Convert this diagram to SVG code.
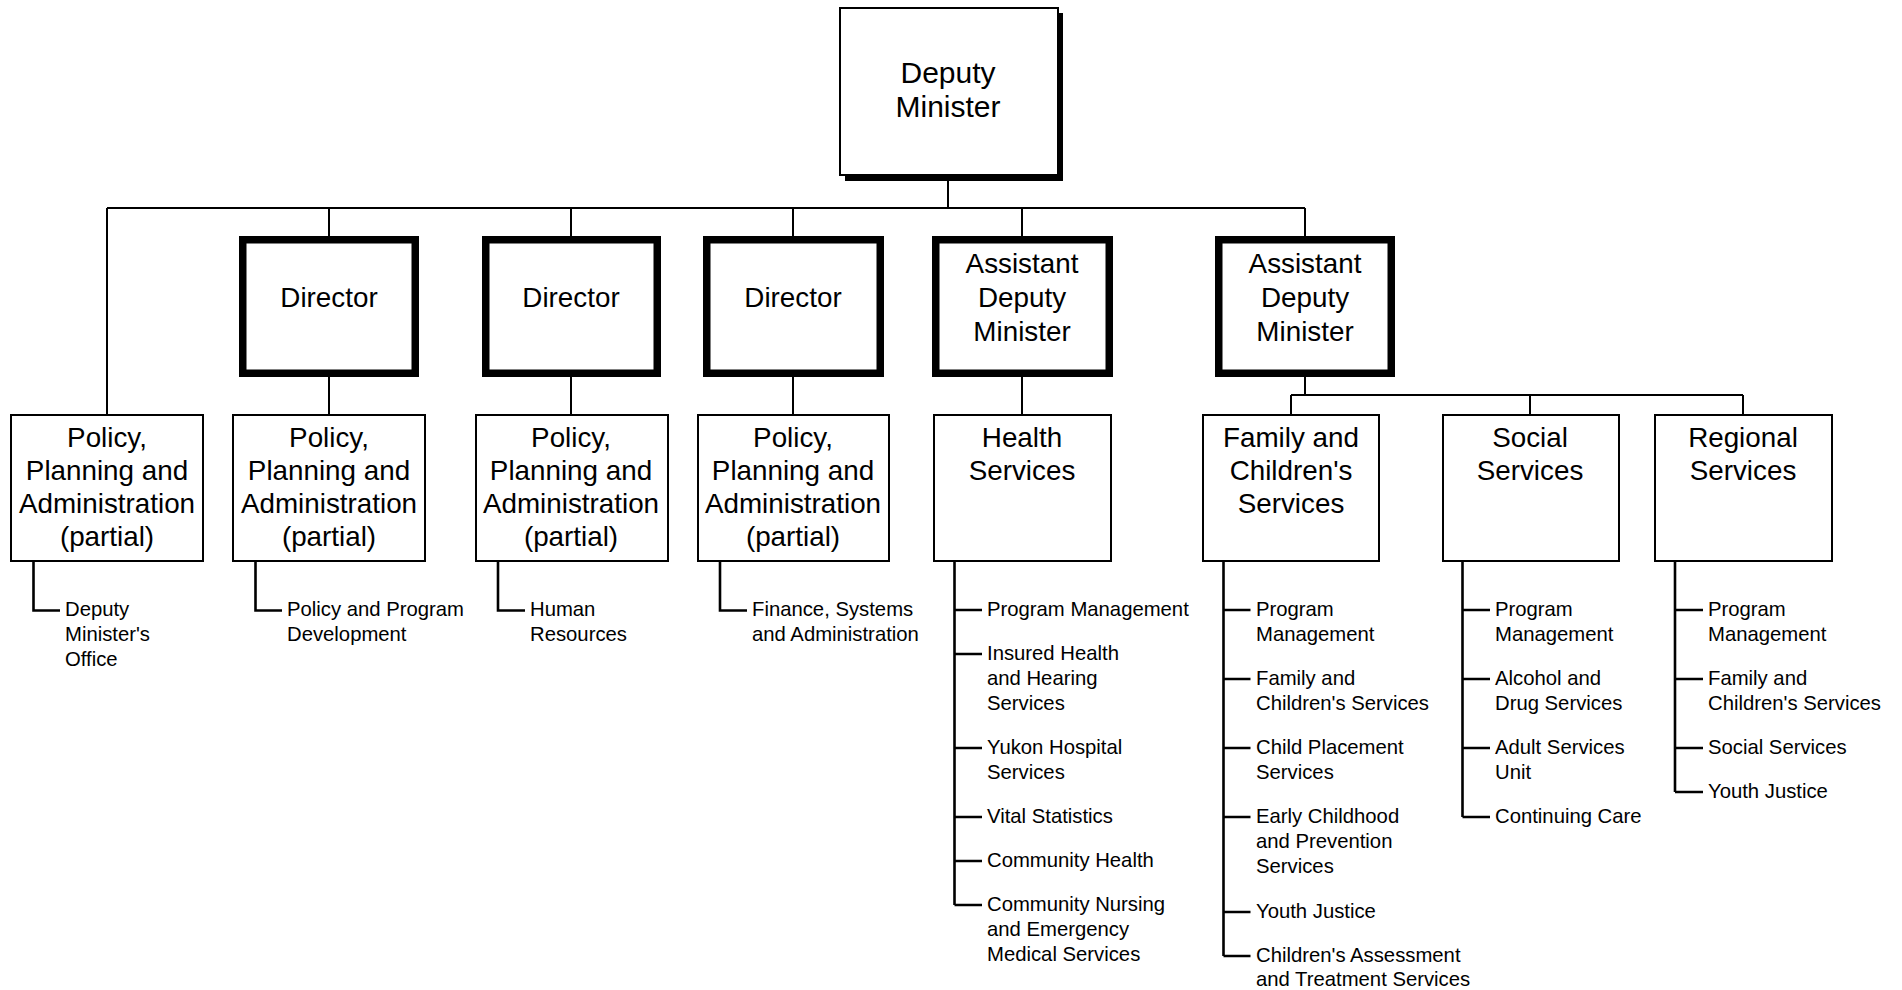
<svg xmlns="http://www.w3.org/2000/svg" width="1902" height="990" viewBox="0 0 1902 990">
<style>
text{font-family:"Liberation Sans",Arial,Helvetica,sans-serif;fill:#000}
.bt{font-size:27.8px;text-anchor:middle}
.dm{font-size:30px;text-anchor:middle}
.lt{font-size:20.3px}
.box{fill:#fff;stroke:#000;stroke-width:2}
.thick{fill:#fff;stroke:#000;stroke-width:7.5}
.con{fill:none;stroke:#000;stroke-width:2}
.lst{fill:none;stroke:#000;stroke-width:2.6}
</style>
<rect width="1902" height="990" fill="#fff"/>
<g id="connectors">
<path class="con" d="M948,175V208M107,208H1305M107,208V414M329,208V236M571,208V236M793,208V236M1022,208V236M1305,208V236"/>
<path class="con" d="M329,377V414M571,377V414M793,377V414M1022,377V414M1305,377V395M1291,395H1743M1291,395V414M1530,395V414M1743,395V414"/>
<path class="lst" d="M33.5,561V610.5H60M255.5,561V610.5H282M498,561V610.5H525M720,561V610.5H747"/>
<path class="lst" d="M954.5,561V905M954.5,610H982M954.5,654H982M954.5,748H982M954.5,817H982M954.5,861H982M954.5,905H982"/>
<path class="lst" d="M1223.5,561V956M1223.5,610H1250.5M1223.5,679H1250.5M1223.5,748H1250.5M1223.5,817H1250.5M1223.5,912H1250.5M1223.5,956H1250.5"/>
<path class="lst" d="M1462.5,561V817M1462.5,610H1490M1462.5,679H1490M1462.5,748H1490M1462.5,817H1490"/>
<path class="lst" d="M1675,561V792M1675,610H1703M1675,679H1703M1675,748H1703M1675,792H1703"/>
</g>
<g id="deputy-minister">
<rect x="845" y="13" width="218" height="168" fill="#000"/>
<rect class="box" x="840" y="8" width="218" height="167" stroke-width="2.5"/>
<text class="dm"><tspan x="948" y="83">Deputy</tspan><tspan x="948" y="117">Minister</tspan></text>
</g>
<g id="director-1"><rect class="thick" x="242.75" y="239.75" width="172.5" height="133.5"/><text class="bt" x="329" y="307">Director</text></g>
<g id="director-2"><rect class="thick" x="485.75" y="239.75" width="171.5" height="133.5"/><text class="bt" x="571" y="307">Director</text></g>
<g id="director-3"><rect class="thick" x="706.75" y="239.75" width="173.5" height="133.5"/><text class="bt" x="793" y="307">Director</text></g>
<g id="adm-health"><rect class="thick" x="935.75" y="239.75" width="173.5" height="133.5"/><text class="bt"><tspan x="1022" y="273">Assistant</tspan><tspan x="1022" y="307">Deputy</tspan><tspan x="1022" y="341">Minister</tspan></text></g>
<g id="adm-social"><rect class="thick" x="1218.75" y="239.75" width="172.5" height="133.5"/><text class="bt"><tspan x="1305" y="273">Assistant</tspan><tspan x="1305" y="307">Deputy</tspan><tspan x="1305" y="341">Minister</tspan></text></g>
<g id="ppa-1"><rect class="box" x="11" y="415" width="192" height="146"/><text class="bt"><tspan x="107" y="447">Policy,</tspan><tspan x="107" y="480">Planning and</tspan><tspan x="107" y="513">Administration</tspan><tspan x="107" y="546">(partial)</tspan></text></g>
<g id="ppa-2"><rect class="box" x="233" y="415" width="192" height="146"/><text class="bt"><tspan x="329" y="447">Policy,</tspan><tspan x="329" y="480">Planning and</tspan><tspan x="329" y="513">Administration</tspan><tspan x="329" y="546">(partial)</tspan></text></g>
<g id="ppa-3"><rect class="box" x="476" y="415" width="192" height="146"/><text class="bt"><tspan x="571" y="447">Policy,</tspan><tspan x="571" y="480">Planning and</tspan><tspan x="571" y="513">Administration</tspan><tspan x="571" y="546">(partial)</tspan></text></g>
<g id="ppa-4"><rect class="box" x="698" y="415" width="191" height="146"/><text class="bt"><tspan x="793" y="447">Policy,</tspan><tspan x="793" y="480">Planning and</tspan><tspan x="793" y="513">Administration</tspan><tspan x="793" y="546">(partial)</tspan></text></g>
<g id="health-services"><rect class="box" x="934" y="415" width="177" height="146"/><text class="bt"><tspan x="1022" y="447">Health</tspan><tspan x="1022" y="480">Services</tspan></text></g>
<g id="family-services"><rect class="box" x="1203" y="415" width="176" height="146"/><text class="bt"><tspan x="1291" y="447">Family and</tspan><tspan x="1291" y="480">Children's</tspan><tspan x="1291" y="513">Services</tspan></text></g>
<g id="social-services"><rect class="box" x="1443" y="415" width="176" height="146"/><text class="bt"><tspan x="1530" y="447">Social</tspan><tspan x="1530" y="480">Services</tspan></text></g>
<g id="regional-services"><rect class="box" x="1655" y="415" width="177" height="146"/><text class="bt"><tspan x="1743" y="447">Regional</tspan><tspan x="1743" y="480">Services</tspan></text></g>
<g id="list-ppa-1"><text class="lt"><tspan x="65" y="616">Deputy</tspan><tspan x="65" y="641">Minister's</tspan><tspan x="65" y="666">Office</tspan></text></g>
<g id="list-ppa-2"><text class="lt"><tspan x="287" y="616">Policy and Program</tspan><tspan x="287" y="641">Development</tspan></text></g>
<g id="list-ppa-3"><text class="lt"><tspan x="530" y="616">Human</tspan><tspan x="530" y="641">Resources</tspan></text></g>
<g id="list-ppa-4"><text class="lt"><tspan x="752" y="616">Finance, Systems</tspan><tspan x="752" y="641">and Administration</tspan></text></g>
<g id="list-health"><text class="lt">
<tspan x="987" y="616">Program Management</tspan>
<tspan x="987" y="660">Insured Health</tspan><tspan x="987" y="685">and Hearing</tspan><tspan x="987" y="710">Services</tspan>
<tspan x="987" y="754">Yukon Hospital</tspan><tspan x="987" y="779">Services</tspan>
<tspan x="987" y="823">Vital Statistics</tspan>
<tspan x="987" y="867">Community Health</tspan>
<tspan x="987" y="911">Community Nursing</tspan><tspan x="987" y="936">and Emergency</tspan><tspan x="987" y="961">Medical Services</tspan>
</text></g>
<g id="list-family"><text class="lt">
<tspan x="1256" y="616">Program</tspan><tspan x="1256" y="641">Management</tspan>
<tspan x="1256" y="685">Family and</tspan><tspan x="1256" y="710">Children's Services</tspan>
<tspan x="1256" y="754">Child Placement</tspan><tspan x="1256" y="779">Services</tspan>
<tspan x="1256" y="823">Early Childhood</tspan><tspan x="1256" y="848">and Prevention</tspan><tspan x="1256" y="873">Services</tspan>
<tspan x="1256" y="918">Youth Justice</tspan>
<tspan x="1256" y="962">Children's Assessment</tspan><tspan x="1256" y="986">and Treatment Services</tspan>
</text></g>
<g id="list-social"><text class="lt">
<tspan x="1495" y="616">Program</tspan><tspan x="1495" y="641">Management</tspan>
<tspan x="1495" y="685">Alcohol and</tspan><tspan x="1495" y="710">Drug Services</tspan>
<tspan x="1495" y="754">Adult Services</tspan><tspan x="1495" y="779">Unit</tspan>
<tspan x="1495" y="823">Continuing Care</tspan>
</text></g>
<g id="list-regional"><text class="lt">
<tspan x="1708" y="616">Program</tspan><tspan x="1708" y="641">Management</tspan>
<tspan x="1708" y="685">Family and</tspan><tspan x="1708" y="710">Children's Services</tspan>
<tspan x="1708" y="754">Social Services</tspan>
<tspan x="1708" y="798">Youth Justice</tspan>
</text></g>
</svg>
